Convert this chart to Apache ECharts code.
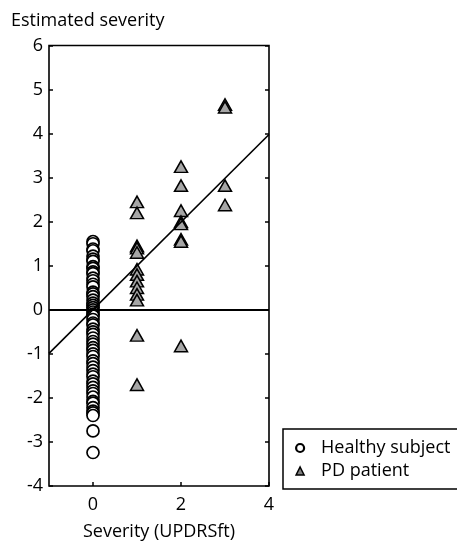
<!DOCTYPE html>
<html>
<head>
<meta charset="utf-8">
<script src="https://cdn.jsdelivr.net/npm/echarts@6/dist/echarts.min.js"></script>
<style>html,body{margin:0;padding:0;background:#fff;}#c{width:457px;height:546px;}</style>
</head>
<body>
<div id="c"></div>
<script>
// Healthy subjects (all at severity 0)
var healthyX = 0;
var healthyY = [1.55, 1.50, 1.38, 1.34, 1.22, 1.15, 1.10, 0.98, 0.94, 0.86, 0.82, 0.72, 0.66, 0.58, 0.52, 0.40, 0.36, 0.30, 0.22, 0.15, 0.10, 0.05, 0.00, -0.05, -0.10, -0.14, -0.22, -0.30, -0.34, -0.44, -0.50, -0.56, -0.64, -0.72, -0.78, -0.86, -0.92, -1.00, -1.06, -1.16, -1.22, -1.30, -1.38, -1.46, -1.52, -1.62, -1.68, -1.76, -1.84, -1.90, -1.98, -2.08, -2.12, -2.22, -2.30, -2.34, -2.40, -2.75, -3.24];
// PD patients
var pdX = [1,1,1,1,1,1,1,1,1,1,1,1,1, 2,2,2,2,2,2,2,2, 3,3,3,3];
var pdY = [2.45, 2.20, 1.45, 1.40, 1.30, 0.92, 0.80, 0.65, 0.50, 0.35, 0.22, -0.58, -1.70,
           3.25, 2.82, 2.25, 2.00, 1.95, 1.60, 1.55, -0.82,
           4.66, 4.60, 2.82, 2.38];
// Regression line end points
var fitX = [-1, 4];
var fitY = [-0.99, 3.98];
var refLineY = 0;
var xTicks = [0, 2, 4];

var healthyData = healthyY.map(function (v) { return [healthyX, v]; });
var pdData = pdX.map(function (x, i) { return [x, pdY[i]]; });
var fitData = fitX.map(function (x, i) { return [x, fitY[i]]; });

var FONT = '"Open Sans", sans-serif';
var chart = echarts.init(document.getElementById('c'), null, {renderer: 'canvas'});
chart.setOption({
  backgroundColor: '#fff',
  animation: false,
  textStyle: {fontFamily: FONT, color: '#000'},
  title: {
    text: 'Estimated severity',
    left: 6, top: 7,
    textStyle: {fontFamily: FONT, fontSize: 18, fontWeight: 'normal', color: '#000'}
  },
  grid: {
    left: 49, top: 45.5, width: 220, height: 443,
    show: true, borderColor: '#000', borderWidth: 1.6, backgroundColor: 'transparent'
  },
  legend: {
    orient: 'vertical',
    left: 283, top: 429,
    padding: [10, 40, 9, 12],
    itemGap: 5,
    itemWidth: 8, itemHeight: 8,
    borderColor: '#000', borderWidth: 1.5,
    textStyle: {fontFamily: FONT, fontSize: 18, color: '#000', padding: [0, 0, 0, 12]},
    data: [
      {name: 'Healthy subject', icon: 'circle', itemStyle: {color: '#fff', borderColor: '#000', borderWidth: 2.2}},
      {name: 'PD patient', icon: 'triangle', itemStyle: {color: '#7f7f7f', borderColor: '#000', borderWidth: 1.5}}
    ]
  },
  xAxis: {
    type: 'value', min: -1, max: 4,
    name: 'Severity (UPDRSft)', nameLocation: 'middle', nameGap: 37,
    nameTextStyle: {fontFamily: FONT, fontSize: 18, color: '#000'},
    axisLine: {show: false, onZero: false},
    splitLine: {show: false},
    axisTick: {show: true, inside: true, length: 4, customValues: xTicks, lineStyle: {color: '#000', width: 1.5}},
    axisLabel: {customValues: xTicks, margin: 10, fontFamily: FONT, fontSize: 18, color: '#000'}
  },
  yAxis: [{
    type: 'value', min: -4, max: 6, interval: 1, position: 'left',
    axisLine: {show: false, onZero: false},
    splitLine: {show: false},
    axisTick: {show: true, inside: true, length: 4, lineStyle: {color: '#000', width: 1.5}},
    axisLabel: {margin: 6, fontFamily: FONT, fontSize: 18, color: '#000'}
  }, {
    type: 'value', min: -4, max: 6, interval: 1, position: 'right',
    axisLine: {show: false, onZero: false},
    splitLine: {show: false},
    axisTick: {show: true, inside: true, length: 4, lineStyle: {color: '#000', width: 1.5}},
    axisLabel: {show: false}
  }],
  series: [{
    name: 'Healthy subject', type: 'scatter', data: healthyData,
    symbol: 'circle', symbolSize: 12,
    itemStyle: {color: '#fff', borderColor: '#000', borderWidth: 1.7, opacity: 1},
    z: 2
  }, {
    name: 'PD patient', type: 'scatter', data: pdData,
    symbol: 'triangle', symbolSize: [13, 11.5],
    itemStyle: {color: '#a6a6a6', borderColor: '#000', borderWidth: 1.5, opacity: 1},
    z: 2,
    markLine: {
      silent: true, symbol: 'none', animation: false,
      label: {show: false},
      lineStyle: {color: '#000', width: 2, type: 'solid'},
      data: [{yAxis: refLineY}],
      z: 5
    }
  }, {
    name: 'fit', type: 'line', data: fitData,
    symbol: 'none', silent: true,
    lineStyle: {color: '#000', width: 1.6},
    z: 5
  }]
});
</script>
</body>
</html>
